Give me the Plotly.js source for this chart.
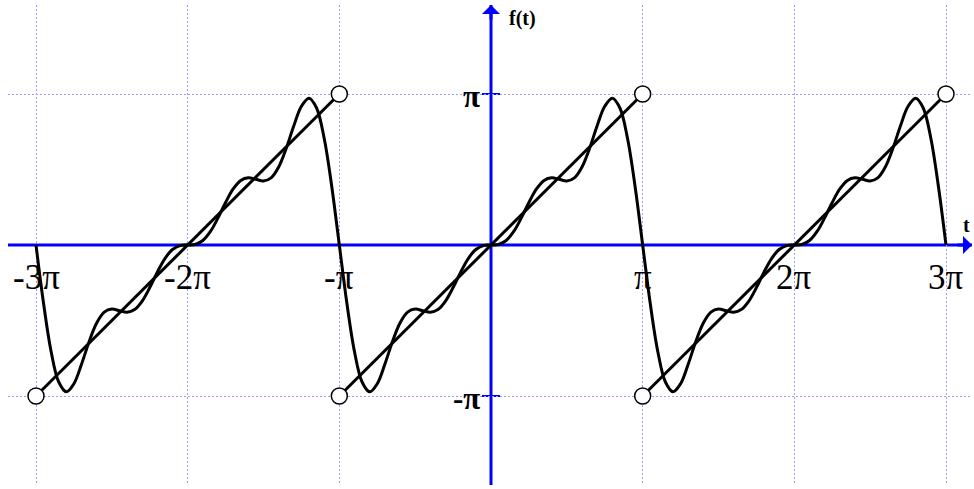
<!DOCTYPE html>
<html>
<head>
<meta charset="utf-8">
<script src="https://cdn.plot.ly/plotly-3.0.1.min.js"></script>
<style>
  html, body { margin: 0; padding: 0; background: #ffffff; }
  #chart { width: 974px; height: 489px; }
</style>
</head>
<body>
<div id="chart"></div>
<script>
// All horizontal and vertical values are in units of pi.

// Period centres of the sawtooth f(t) = t, repeated every 2*pi.
const periodCentres = [-2, 0, 2];

// One period of the 4-term Fourier partial sum, t in [-pi, pi].
const tOverPi = [-1, -0.95, -0.9, -0.85, -0.8, -0.75, -0.7, -0.65, -0.6, -0.55,
                 -0.5, -0.45, -0.4, -0.35, -0.3, -0.25, -0.2, -0.15, -0.1, -0.05,
                 0, 0.05, 0.1, 0.15, 0.2, 0.25, 0.3, 0.35, 0.4, 0.45,
                 0.5, 0.55, 0.6, 0.65, 0.7, 0.75, 0.8, 0.85, 0.9, 0.95, 1];
const fOverPi = [0, -0.3878, -0.7069, -0.9075, -0.9723, -0.9185, -0.7898, -0.6402, -0.5165, -0.4445,
                 -0.4244, -0.4349, -0.4450, -0.4279, -0.3714, -0.2819, -0.1797, -0.0897, -0.0299, -0.0040,
                 0, 0.0040, 0.0299, 0.0897, 0.1797, 0.2819, 0.3714, 0.4279, 0.4450, 0.4349,
                 0.4244, 0.4445, 0.5165, 0.6402, 0.7898, 0.9185, 0.9723, 0.9075, 0.7069, 0.3878, 0];

// Ramp of each period: from (centre - 1, -1) to (centre + 1, 1); its ends are open points.
const rampStart = { t: -1, f: -1 };
const rampEnd = { t: 1, f: 1 };

// Axis tick positions and labels.
const xTickVals = [-3, -2, -1, 1, 2, 3];
const xTickText = ['-3\u03c0', '-2\u03c0', '-\u03c0', '\u03c0', '2\u03c0', '3\u03c0'];
const yTickVals = [1, -1];
const yTickText = ['\u03c0', '-\u03c0'];

// Build the three periods of the partial sum as one continuous curve.
const sumX = [], sumY = [];
periodCentres.forEach((c, p) => {
  tOverPi.forEach((t, i) => {
    if (p > 0 && i === 0) return; // shared point with previous period
    sumX.push(c + t);
    sumY.push(fOverPi[i]);
  });
});

// Ramps (separated by gaps) and their open end points.
const rampX = [], rampY = [], endX = [], endY = [];
periodCentres.forEach(c => {
  rampX.push(c + rampStart.t, c + rampEnd.t, null);
  rampY.push(rampStart.f, rampEnd.f, null);
  endX.push(c + rampStart.t, c + rampEnd.t);
  endY.push(rampStart.f, rampEnd.f);
});

const BLUE = '#0000ff';
const serif = 'Liberation Serif, Times New Roman, serif';

const traces = [
  { x: rampX, y: rampY, mode: 'lines', line: { color: '#000000', width: 3 },
    hoverinfo: 'skip', cliponaxis: false },
  { x: sumX, y: sumY, mode: 'lines', line: { color: '#000000', width: 3, shape: 'spline', smoothing: 1 },
    hoverinfo: 'skip', cliponaxis: false },
  { x: endX, y: endY, mode: 'markers',
    marker: { size: 16, color: '#ffffff', line: { color: '#000000', width: 1.5 } },
    hoverinfo: 'skip', cliponaxis: false }
];

const shapes = [
  // horizontal axis
  { type: 'line', layer: 'below', xref: 'paper', yref: 'y', x0: 0, x1: 1, y0: 0, y1: 0,
    line: { color: BLUE, width: 3 } },
  // vertical axis
  { type: 'line', layer: 'below', xref: 'x', yref: 'paper', x0: 0, x1: 0, y0: 0, y1: 1,
    line: { color: BLUE, width: 3 } }
];
yTickVals.forEach(v => {
  shapes.push({ type: 'line', layer: 'below', xref: 'x', yref: 'y',
    xsizemode: 'pixel', xanchor: 0, x0: -9, x1: 9, y0: v, y1: v,
    line: { color: BLUE, width: 2 } });
});

const annotations = [
  // arrow heads of the axes
  { xref: 'paper', yref: 'y', x: 1, y: 0, ax: -16, ay: 0, text: '', showarrow: true,
    arrowhead: 1, arrowsize: 1, arrowwidth: 3, arrowcolor: BLUE },
  { xref: 'x', yref: 'paper', x: 0, y: 1, ax: 0, ay: 16, text: '', showarrow: true,
    arrowhead: 1, arrowsize: 1, arrowwidth: 3, arrowcolor: BLUE },
  // axis names
  { xref: 'x', yref: 'y', x: 0, y: 1.5, xanchor: 'left', yanchor: 'middle', xshift: 16,
    text: '<b>f(t)</b>', showarrow: false, font: { family: serif, size: 20, color: '#000000' } },
  { xref: 'x', yref: 'y', x: 3.138, y: 0.13, xanchor: 'center', yanchor: 'middle',
    text: '<b>t</b>', showarrow: false, font: { family: serif, size: 20, color: '#000000' } }
];
xTickVals.forEach((v, i) => {
  annotations.push({ xref: 'x', yref: 'y', x: v, y: 0, xanchor: 'center', yanchor: 'middle',
    yshift: -32, text: xTickText[i], showarrow: false,
    font: { family: serif, size: 35, color: '#000000' } });
});
yTickVals.forEach((v, i) => {
  annotations.push({ xref: 'x', yref: 'y', x: 0, y: v, xanchor: 'right', yanchor: 'middle',
    xshift: -9, yshift: -2, text: '<b>' + yTickText[i] + '</b>', showarrow: false,
    font: { family: serif, size: 31, color: '#000000' } });
});

const gridStyle = { showgrid: true, gridcolor: '#9c9cff', gridwidth: 1, griddash: '2px,2px',
  zeroline: false, showline: false, showticklabels: false, ticks: '', fixedrange: true };

const layout = {
  width: 974, height: 489,
  margin: { l: 8, r: 2, t: 5, b: 4, pad: 0 },
  paper_bgcolor: '#ffffff', plot_bgcolor: '#ffffff',
  showlegend: false,
  xaxis: Object.assign({ range: [-3.1846, 3.1714], tickmode: 'array', tickvals: xTickVals }, gridStyle),
  yaxis: Object.assign({ range: [-1.5894, 1.5894], tickmode: 'array', tickvals: yTickVals }, gridStyle),
  shapes: shapes,
  annotations: annotations
};

Plotly.newPlot('chart', traces, layout, { staticPlot: true, displayModeBar: false });
</script>
</body>
</html>
